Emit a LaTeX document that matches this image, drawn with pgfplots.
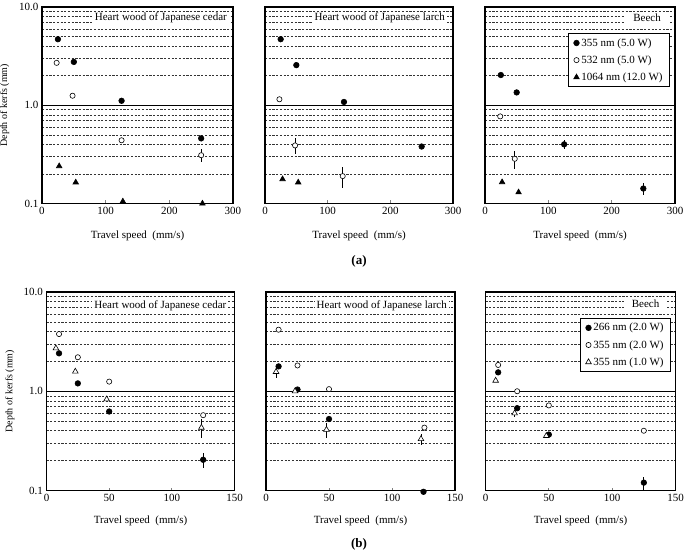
\documentclass[border=0pt]{standalone}
\usepackage{fontspec}
\setmainfont{Liberation Serif}
\usepackage{pgfplots}
\pgfplotsset{compat=1.18}
\newcommand{\labfont}{\fontsize{11}{13}\selectfont}
\pgfplotsset{
    scale only axis, ymin=0.1, ymax=10,
    ytick={0.1,1,10}, yticklabels={},
    minor ytick={0.2,0.3,0.4,0.5,0.6,0.7,0.8,0.9,2,3,4,5,6,7,8,9},
    ymajorgrids, yminorgrids,
    major grid style={black, line width=0.9pt},
    minor grid style={black!80, line width=0.5pt, dash pattern=on 2.2pt off 1.5pt},
    axis line style={line width=1.3pt},
    tick align=inside, xtick pos=bottom, ytick pos=left,
    major tick length=3pt, minor tick length=0pt,
    ytick style={draw=none},
    xtick style={line width=0.8pt},
    xminorticks=false,
    clip=false,
    tick label style={font=\labfont},
    every axis x label/.style={at={(axis description cs:0.5,0)}, anchor=center, font=\labfont},
    every axis y label/.style={at={(axis description cs:-0.195,0.5)}, rotate=90, anchor=center, font=\fontsize{10}{12}\selectfont},
    legend style={font=\labfont, draw=black, line width=1pt, inner xsep=5pt, inner ysep=3pt,
      row sep=4pt, cells={anchor=west}, anchor=north east},
    legend cell align=left,
    mfc/.style={only marks, mark=*, mark size=2.8pt, line width=0.6pt, mark options={draw=black, fill=black}},
    moc/.style={only marks, mark=*, mark size=2.6pt, line width=0.6pt, mark options={draw=black, fill=white}},
    mft/.style={only marks, mark=triangle*, mark size=3.2pt, line width=0.6pt, mark options={draw=black, fill=black}},
    mot/.style={only marks, mark=triangle*, mark size=3.3pt, line width=0.6pt, mark options={draw=black, fill=white}},
    meb/.style={error bars/y dir=both, error bars/y explicit, error bars/error mark=none,
      error bars/error bar style={line width=0.8pt, black}},
}
\pgfkeys{/pgf/number format/assume math mode=true}
\begin{document}
\begin{tikzpicture}
\path[use as bounding box] (0pt,0pt) rectangle (685pt,553pt);

% ===== Row (a) =====
\begin{axis}[ymode=log, at={(42pt,349.5pt)}, anchor=south west, width=191pt, height=196.5pt,
  xmin=0, xmax=300, xtick={0,100,200,300},
  xlabel={Travel speed\ \ (mm/s)}, xlabel style={yshift=-32pt},
  yticklabels={0.1,1.0,10.0}, ylabel={Depth of kerfs (mm)}]
\addplot[mfc] coordinates {(25,4.7) (50,2.76) (125,1.11) (250,0.46)};
\addplot[moc, meb] coordinates {(23,2.7) +- (0,0) (48,1.25) +- (0,0) (125,0.44) +- (0,0) (250,0.31) +- (0,0.045)};
\addplot[mft] coordinates {(27,0.24) (53,0.164) (127,0.105) (252,0.1)};
\node[anchor=east, fill=white, inner xsep=2pt, inner ysep=1pt, font=\labfont, xshift=-4pt, yshift=-11pt] at (rel axis cs:1,1) {Heart wood of Japanese cedar};
\end{axis}

\begin{axis}[ymode=log, at={(265pt,349.5pt)}, anchor=south west, width=188pt, height=196.5pt,
  xmin=0, xmax=300, xtick={0,100,200,300},
  xlabel={Travel speed\ \ (mm/s)}, xlabel style={yshift=-32pt}]
\addplot[mfc] coordinates {(25,4.7) (50,2.56) (126,1.08) (250,0.38)};
\addplot[moc, meb] coordinates {(23,1.15) +- (0,0) (48,0.39) +- (0,0.07) (124,0.19) +- (0,0.047)};
\addplot[mft] coordinates {(28,0.177) (53,0.164)};
\node[anchor=east, fill=white, inner xsep=2pt, inner ysep=1pt, font=\labfont, xshift=-6pt, yshift=-11pt] at (rel axis cs:1,1) {Heart wood of Japanese larch};
\end{axis}

\begin{axis}[ymode=log, at={(485pt,349.5pt)}, anchor=south west, width=190pt, height=196.5pt,
  xmin=0, xmax=300, xtick={0,100,200,300},
  xlabel={Travel speed\ \ (mm/s)}, xlabel style={yshift=-32pt},
  legend style={at={(rel axis cs:0.974,0.868)}}]
\addplot[mfc, meb] coordinates {(25,2.03) +- (0,0) (50,1.35) +- (0,0) (125,0.40) +- (0,0.04) (250,0.142) +- (0,0.02)};
\addlegendentry{355 nm (5.0 W)}
\addplot[moc, meb] coordinates {(24,0.77) +- (0,0) (47,0.285) +- (0,0.058)};
\addlegendentry{532 nm (5.0 W)}
\addplot[mft] coordinates {(27,0.165) (53,0.13)};
\addlegendentry{1064 nm (12.0 W)}
\node[anchor=east, fill=white, inner xsep=8pt, inner ysep=1pt, font=\labfont, xshift=-6pt, yshift=-11pt] at (rel axis cs:1,1) {Beech};
\end{axis}

\node[font=\fontsize{13}{15}\selectfont\bfseries] at (359pt,292pt) {(a)};

% ===== Row (b) =====
\begin{axis}[ymode=log, at={(46.5pt,62.5pt)}, anchor=south west, width=188pt, height=198.5pt,
  xmin=0, xmax=150, xtick={0,50,100,150},
  xlabel={Travel speed\ \ (mm/s)}, xlabel style={yshift=-30pt},
  yticklabels={0.1,1.0,10.0}, ylabel={Depth of kerfs (mm)}]
\addplot[mfc, meb] coordinates {(10,2.41) +- (0,0) (25,1.2) +- (0,0) (50,0.625) +- (0,0) (125,0.204) +- (0,0.035)};
\addplot[moc] coordinates {(10,3.77) (25,2.2) (50,1.25) (125,0.574)};
\addplot[mot, meb] coordinates {(7.5,2.71) +- (0,0) (23,1.58) +- (0,0) (48,0.83) +- (0,0) (123.6,0.43) +- (0,0.09)};
\node[anchor=east, fill=white, inner xsep=2pt, inner ysep=1pt, font=\labfont, xshift=-6pt, yshift=-13.5pt] at (rel axis cs:1,1) {Heart wood of Japanese cedar};
\end{axis}

\begin{axis}[ymode=log, at={(266pt,62.5pt)}, anchor=south west, width=189pt, height=198.5pt,
  xmin=0, xmax=150, xtick={0,50,100,150},
  xlabel={Travel speed\ \ (mm/s)}, xlabel style={yshift=-30pt}]
\addplot[mfc] coordinates {(10,1.78) (25,1.04) (50,0.525) (125,0.097)};
\addplot[moc] coordinates {(10,4.17) (25,1.82) (50,1.05) (125.7,0.43)};
\addplot[mot, meb] coordinates {(8,1.57) +- (0,0.2) (23,1.0) +- (0,0) (48,0.41) +- (0,0.07) (123,0.33) +- (0,0.04)};
\node[anchor=east, fill=white, inner xsep=2pt, inner ysep=1pt, font=\labfont, xshift=-6pt, yshift=-13.5pt] at (rel axis cs:1,1) {Heart wood of Japanese larch};
\end{axis}

\begin{axis}[ymode=log, at={(485.5pt,62.5pt)}, anchor=south west, width=190pt, height=198.5pt,
  xmin=0, xmax=150, xtick={0,50,100,150},
  xlabel={Travel speed\ \ (mm/s)}, xlabel style={yshift=-30pt},
  legend style={at={(rel axis cs:0.977,0.87)}}]
\addplot[mfc, meb] coordinates {(10,1.55) +- (0,0) (25,0.675) +- (0,0) (50,0.366) +- (0,0) (125,0.12) +- (0,0.018)};
\addlegendentry{266 nm (2.0 W)}
\addplot[moc] coordinates {(10,1.84) (25,1.0) (50,0.72) (125,0.40)};
\addlegendentry{355 nm (2.0 W)}
\addplot[mot, meb] coordinates {(8,1.28) +- (0,0) (23,0.6) +- (0,0.05) (48,0.355) +- (0,0)};
\addlegendentry{355 nm (1.0 W)}
\node[anchor=east, fill=white, inner xsep=8pt, inner ysep=1pt, font=\labfont, xshift=-8pt, yshift=-12pt] at (rel axis cs:1,1) {Beech};
\end{axis}

\node[font=\fontsize{13}{15}\selectfont\bfseries] at (359pt,9pt) {(b)};
\end{tikzpicture}
\end{document}
